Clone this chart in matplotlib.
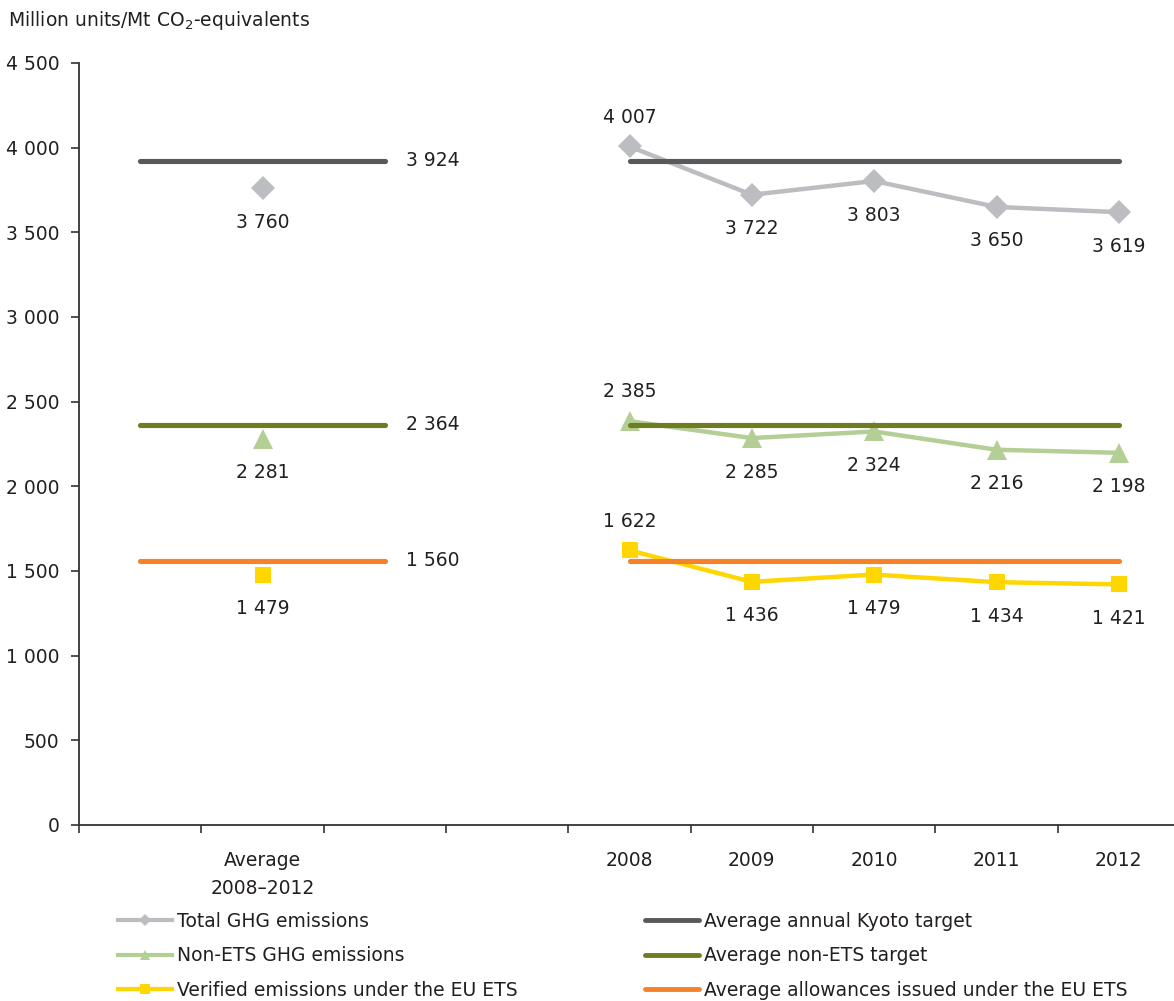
import matplotlib.pyplot as plt
from matplotlib.lines import Line2D

# Chart data
avg_label = "Average\n2008–2012"
years = ["2008", "2009", "2010", "2011", "2012"]

total_ghg = [4007, 3722, 3803, 3650, 3619]
total_ghg_avg = 3760
non_ets = [2385, 2285, 2324, 2216, 2198]
non_ets_avg = 2281
verified_ets = [1622, 1436, 1479, 1434, 1421]
verified_ets_avg = 1479

kyoto_target = 3924
non_ets_target = 2364
ets_allowances = 1560

# label above (True) or below (False) each yearly point
label_above = [True, False, False, False, False]

# colours
c_total = "#BCBDC0"
c_kyoto = "#58595B"
c_nonets = "#B3CF96"
c_nonets_t = "#6F7C1F"
c_ets = "#FFD600"
c_allow = "#F4822A"
txt = "#231F20"

plt.rcParams["font.family"] = ["DejaVu Sans"]
plt.rcParams["font.size"] = 13.5


def fmt(v):
    return f"{v:,}".replace(",", " ")


# category slots: 0 blank, 1 average, 2-3 blank, 4-8 years
categories = ["", avg_label, "", ""] + years
x_avg = categories.index(avg_label)
x_years = [categories.index(y) for y in years]
avg_span = [x_avg - 1, x_avg + 1]

fig = plt.figure(figsize=(11.74, 10.01), dpi=100)
ax = fig.add_axes([79 / 1174, 176 / 1001, 1101 / 1174, 762 / 1001])

series = [
    (total_ghg, total_ghg_avg, c_total, "D", 12.2, kyoto_target, c_kyoto),
    (non_ets, non_ets_avg, c_nonets, "^", 14.5, non_ets_target, c_nonets_t),
    (verified_ets, verified_ets_avg, c_ets, "s", 11.5, ets_allowances, c_allow),
]

for vals, avg, col, mk, ms, target, tcol in series:
    # yearly values
    ax.plot(x_years, vals, color=col, lw=3.2, marker=mk, ms=ms, mew=0,
            solid_joinstyle="round", zorder=3)
    # average point
    ax.plot([x_avg], [avg], color=col, marker=mk, ms=ms, mew=0, ls="none", zorder=3)
    ax.annotate(fmt(avg), (x_avg, avg), xytext=(0, -24.5), textcoords="offset points",
                ha="center", va="center", color=txt)
    for x, v, up in zip(x_years, vals, label_above):
        ax.annotate(fmt(v), (x, v), xytext=(0, 21 if up else -24.5),
                    textcoords="offset points", ha="center", va="center", color=txt)
    # targets
    ax.plot(avg_span, [target, target], color=tcol, lw=3.7, solid_capstyle="round", zorder=4)
    ax.plot([x_years[0], x_years[-1]], [target, target], color=tcol, lw=3.7,
            solid_capstyle="round", zorder=4)
    ax.annotate(fmt(target), (avg_span[1], target), xytext=(15, 0),
                textcoords="offset points", ha="left", va="center", color=txt)

ax.set_xlim(-0.5, len(categories) - 0.5)
ax.set_ylim(0, 4500)
ax.set_yticks(range(0, 4501, 500))
ax.set_yticklabels([fmt(v) for v in range(0, 4501, 500)])
ax.set_xticks(range(len(categories)))
ax.set_xticklabels(categories, linespacing=1.55)
ax.set_xticks([i - 0.5 for i in range(len(categories) + 1)], minor=True)
ax.tick_params(axis="x", which="major", length=0, pad=19, colors=txt)
ax.tick_params(axis="x", which="minor", length=6, width=1.2, color="#333333")
ax.tick_params(axis="y", length=6, width=1.2, pad=8, colors=txt, color="#333333")

for s in ["top", "right"]:
    ax.spines[s].set_visible(False)
for s in ["left", "bottom"]:
    ax.spines[s].set_linewidth(1.3)
    ax.spines[s].set_color("#333333")

fig.text(8 / 1174, 1 - 20 / 1001, "Million units/Mt CO$_2$-equivalents",
         ha="left", va="center", color=txt)

# legend
left_handles = [
    Line2D([], [], color=c_total, lw=3, marker="D", ms=6, mew=0),
    Line2D([], [], color=c_nonets, lw=3, marker="^", ms=7, mew=0),
    Line2D([], [], color=c_ets, lw=3, marker="s", ms=7, mew=0),
]
left_labels = ["Total GHG emissions", "Non-ETS GHG emissions",
               "Verified emissions under the EU ETS"]
right_handles = [
    Line2D([], [], color=c_kyoto, lw=3.5, solid_capstyle="round"),
    Line2D([], [], color=c_nonets_t, lw=3.5, solid_capstyle="round"),
    Line2D([], [], color=c_allow, lw=3.5, solid_capstyle="round"),
]
right_labels = ["Average annual Kyoto target", "Average non-ETS target",
                "Average allowances issued under the EU ETS"]

for handles, labels, x0 in [(left_handles, left_labels, 118),
                            (right_handles, right_labels, 645)]:
    leg = fig.legend(handles, labels, loc="upper left",
                     bbox_to_anchor=(x0 / 1174, 1 - 912 / 1001),
                     frameon=False, borderpad=0, borderaxespad=0,
                     handlelength=2.9, handletextpad=0.25, labelspacing=0.82)
    for t in leg.get_texts():
        t.set_color(txt)

fig.savefig("out.png", dpi=100)
